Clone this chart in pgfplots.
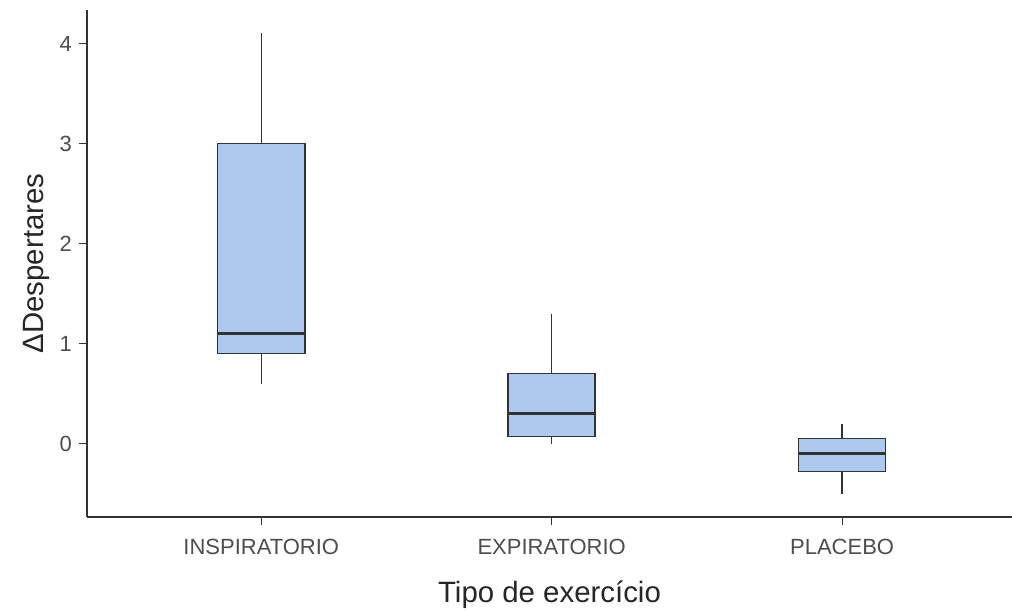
\documentclass[border=0pt]{standalone}
\usepackage{fontspec}
\setmainfont{Liberation Sans}
\usepackage{pgfplots}
\pgfplotsset{compat=1.18}
\usepgfplotslibrary{statistics}
\definecolor{boxfill}{RGB}{174,201,240}
\definecolor{edge}{RGB}{51,51,51}
\definecolor{ticklab}{RGB}{77,77,77}
\begin{document}
\begin{tikzpicture}
\useasboundingbox (-43.5pt,-47.5pt) rectangle (462.5pt,258.5pt);
\begin{axis}[
  at={(0,0)}, anchor=south west,
  scale only axis,
  width=462.5pt, height=253.5pt,
  xmin=0.4, xmax=3.585,
  ymin=-0.735, ymax=4.335,
  axis x line*=bottom, axis y line*=left,
  axis line style={edge, line width=0.6pt},
  xtick={1,2,3},
  xticklabels={INSPIRATORIO,EXPIRATORIO,PLACEBO},
  ytick={0,1,2,3,4},
  tick align=outside,
  major tick length=4pt,
  tick style={edge, line width=0.6pt},
  /pgf/number format/assume math mode=true,
  ticklabel style={font=\fontsize{11}{13}\selectfont, text=ticklab},
  xticklabel style={yshift=-3.5pt},
  xlabel={Tipo de exercício},
  ylabel={ΔDespertares},
  label style={font=\fontsize{14.7}{17}\selectfont, text=black!85},
  xlabel style={yshift=-6pt},
  ylabel style={yshift=-2pt},
  boxplot/draw direction=y,
  boxplot/box extend=0.3,
  boxplot/whisker extend=0,
  boxplot/every whisker/.style={line width=0.65pt},
  boxplot/every median/.style={line width=1.3pt},
]
\addplot[draw=edge, fill=boxfill, line width=0.75pt,
  boxplot prepared={draw position=1, lower whisker=0.6, lower quartile=0.9,
    median=1.1, upper quartile=3.0, upper whisker=4.1}] coordinates {};
\addplot[draw=edge, fill=boxfill, line width=0.75pt,
  boxplot prepared={draw position=2, lower whisker=0.0, lower quartile=0.07,
    median=0.3, upper quartile=0.7, upper whisker=1.3}] coordinates {};
\addplot[draw=edge, fill=boxfill, line width=0.75pt,
  boxplot prepared={draw position=3, lower whisker=-0.5, lower quartile=-0.28,
    median=-0.1, upper quartile=0.05, upper whisker=0.2}] coordinates {};
\end{axis}
\end{tikzpicture}
\end{document}
